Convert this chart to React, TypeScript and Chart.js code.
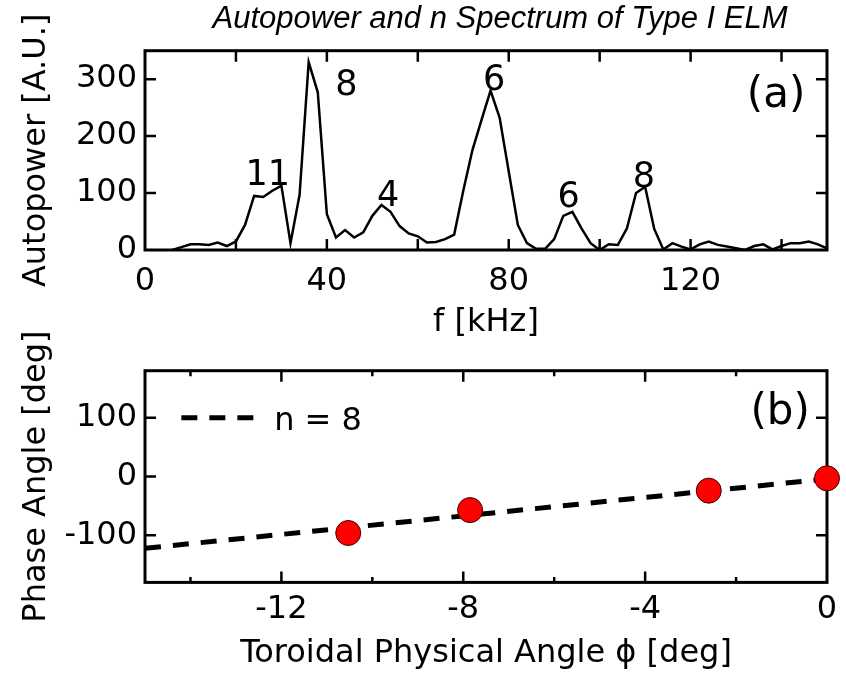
import React, { useEffect, useRef } from 'react';
import { Chart, registerables } from 'chart.js';

Chart.register(...registerables);

const FONT = '"DejaVu Sans", "Open Sans", sans-serif';
const TITLE_FONT = 'italic 31px "Liberation Sans", Arial, sans-serif';

// ---------- Panel (a): autopower spectrum ----------
const chartTitle = 'Autopower and n Spectrum of Type I ELM';
const freqKHz = [
  6, 8, 10, 12, 14, 16, 18, 20, 22, 24, 26, 28, 30, 32, 34, 36, 38, 40, 42, 44,
  46, 48, 50, 52, 54, 56, 58, 60, 62, 64, 66, 68, 70, 72, 74, 76, 78, 80, 82, 84,
  86, 88, 90, 92, 94, 96, 98, 100, 102, 104, 106, 108, 110, 112, 114, 116, 118, 120,
  122, 124, 126, 128, 130, 132, 134, 136, 138, 140, 142, 144, 146, 148, 150,
];
const autopower = [
  0, 5, 10, 10, 9, 13, 7, 15, 44, 95, 93, 104, 113, 12, 97, 330, 277, 63, 22, 35,
  22, 31, 60, 79, 67, 42, 29, 24, 13, 14, 19, 27, 104, 175, 228, 280, 232, 138, 44, 12,
  2, 2, 19, 60, 67, 38, 12, 0, 10, 9, 38, 100, 111, 37, 1, 12, 6, 1,
  10, 15, 9, 6, 3, 0, 7, 10, 1, 7, 12, 12, 15, 10, 3,
];
const xTickLabelsA = [0, 40, 80, 120];
const yTickLabelsA = [0, 100, 200, 300];
// mode-number annotations (text, frequency, baseline value)
const peakLabels = ['11', '8', '4', '6', '6', '8'];
const peakLabelF = [27, 44.3, 53.5, 76.8, 93.2, 109.7];
const peakLabelV = [114, 272, 77, 281, 76, 111];
const panelALabel = '(a)';
const panelALabelAt = [138.8, 252];

// ---------- Panel (b): phase vs toroidal angle ----------
const probePhi = [-10.53, -7.85, -2.6, 0];
const probePhase = [-96, -57, -24, -3];
const fitPhi = [-15, 0];
const fitPhase = [-122, -4];
const xTickLabelsB = [-12, -8, -4, 0];
const yTickLabelsB = [-100, 0, 100];
const legendText = 'n = 8';
const legendLinePhi = [-14.2, -12.6];
const legendPhase = 100;
const legendTextAt = [-12.16, 79.4];
const panelBLabel = '(b)';
const panelBLabelAt = [-1.03, 89.6];

function frameTicksPlugin(xMajor: number[] | null, majorLen: number, minorLen: number) {
  return {
    id: 'frameTicks',
    beforeDatasetsDraw(chart: any) {
      const { ctx, chartArea: a } = chart;
      const xs = chart.scales.x;
      const ys = chart.scales.y;
      ctx.save();
      ctx.strokeStyle = '#000';
      ctx.lineWidth = 2.5;
      ctx.beginPath();
      for (const t of xs.ticks) {
        const v = t.value;
        if (v <= xs.min || v >= xs.max) continue;
        const p = xs.getPixelForValue(v);
        const len = !xMajor || xMajor.includes(v) ? majorLen : minorLen;
        ctx.moveTo(p, a.bottom);
        ctx.lineTo(p, a.bottom - len);
        ctx.moveTo(p, a.top);
        ctx.lineTo(p, a.top + len);
      }
      for (const t of ys.ticks) {
        const v = t.value;
        if (v <= ys.min || v >= ys.max) continue;
        const p = ys.getPixelForValue(v);
        ctx.moveTo(a.left, p);
        ctx.lineTo(a.left + majorLen, p);
        ctx.moveTo(a.right, p);
        ctx.lineTo(a.right - majorLen, p);
      }
      ctx.stroke();
      ctx.lineWidth = 3;
      ctx.strokeRect(a.left, a.top, a.right - a.left, a.bottom - a.top);
      ctx.restore();
    },
  };
}

const topTextPlugin = {
  id: 'topText',
  afterDraw(chart: any) {
    const { ctx } = chart;
    const xs = chart.scales.x;
    const ys = chart.scales.y;
    ctx.save();
    ctx.fillStyle = '#000';
    ctx.textBaseline = 'alphabetic';
    ctx.textAlign = 'center';
    ctx.font = TITLE_FONT;
    ctx.fillText(chartTitle, 500, 28);
    ctx.font = `35px ${FONT}`;
    peakLabels.forEach((txt, i) => {
      ctx.fillText(txt, xs.getPixelForValue(peakLabelF[i]), ys.getPixelForValue(peakLabelV[i]));
    });
    ctx.font = `42px ${FONT}`;
    ctx.fillText(panelALabel, xs.getPixelForValue(panelALabelAt[0]), ys.getPixelForValue(panelALabelAt[1]));
    ctx.restore();
  },
};

const bottomTextPlugin = {
  id: 'bottomText',
  afterDraw(chart: any) {
    const { ctx } = chart;
    const xs = chart.scales.x;
    const ys = chart.scales.y;
    ctx.save();
    ctx.strokeStyle = '#000';
    ctx.lineWidth = 5;
    ctx.setLineDash([16, 12]);
    ctx.beginPath();
    const ly = ys.getPixelForValue(legendPhase);
    ctx.moveTo(xs.getPixelForValue(legendLinePhi[0]), ly);
    ctx.lineTo(xs.getPixelForValue(legendLinePhi[1]), ly);
    ctx.stroke();
    ctx.setLineDash([]);
    ctx.fillStyle = '#000';
    ctx.textBaseline = 'alphabetic';
    ctx.textAlign = 'left';
    ctx.font = `32px ${FONT}`;
    ctx.fillText(legendText, xs.getPixelForValue(legendTextAt[0]), ys.getPixelForValue(legendTextAt[1]));
    ctx.textAlign = 'center';
    ctx.font = `42px ${FONT}`;
    ctx.fillText(panelBLabel, xs.getPixelForValue(panelBLabelAt[0]), ys.getPixelForValue(panelBLabelAt[1]));
    ctx.restore();
  },
};

const tickFont = { family: FONT, size: 32 };
const yTickFont = { family: FONT, size: 32, lineHeight: 1 };
const titleFont = { family: FONT, size: 32 };

const TOP_H = 345;
const BOT_TOP = 300;
const BOT_H = 675 - BOT_TOP;

export default function App() {
  const topRef = useRef<HTMLCanvasElement>(null);
  const botRef = useRef<HTMLCanvasElement>(null);

  useEffect(() => {
    const top = new Chart(topRef.current as HTMLCanvasElement, {
      type: 'line',
      data: {
        datasets: [
          {
            data: freqKHz.map((f, i) => ({ x: f, y: autopower[i] })),
            borderColor: '#000',
            borderWidth: 2.5,
            pointRadius: 0,
            tension: 0,
            fill: false,
          },
        ],
      },
      options: {
        responsive: false,
        animation: false,
        events: [],
        layout: { padding: { top: 50.7, right: 19, left: 0, bottom: 0 } },
        plugins: { legend: { display: false }, tooltip: { enabled: false }, title: { display: false } },
        scales: {
          x: {
            type: 'linear',
            min: 0,
            max: 150,
            grid: { display: false, drawTicks: false },
            border: { display: false },
            ticks: {
              stepSize: 20,
              includeBounds: false,
              autoSkip: false,
              maxRotation: 0,
              padding: 12.6,
              color: '#000',
              font: tickFont,
              callback: (v: any) => (xTickLabelsA.includes(Math.round(Number(v))) ? String(Math.round(Number(v))) : ''),
            },
            title: { display: true, text: 'f [kHz]', color: '#000', font: titleFont, padding: { top: 0, bottom: 2.8 } },
            afterFit: (s: any) => {
              s.height = TOP_H - 250;
            },
          },
          y: {
            min: 0,
            max: 350,
            grid: { display: false, drawTicks: false },
            border: { display: false },
            ticks: {
              stepSize: 100,
              includeBounds: false,
              autoSkip: false,
              padding: 8,
              color: '#000',
              font: yTickFont,
              callback: (v: any) => (yTickLabelsA.includes(Math.round(Number(v))) ? String(Math.round(Number(v))) : ''),
            },
            title: { display: true, text: 'Autopower [A.U.]', color: '#000', font: titleFont, padding: { top: 17.8, bottom: 0 } },
            afterFit: (s: any) => {
              s.width = 145;
            },
          },
        },
      },
      plugins: [frameTicksPlugin(null, 11, 5.5), topTextPlugin],
    } as any);

    const bot = new Chart(botRef.current as HTMLCanvasElement, {
      type: 'scatter',
      data: {
        datasets: [
          {
            data: probePhi.map((p, i) => ({ x: p, y: probePhase[i] })),
            pointRadius: 12.5,
            pointBackgroundColor: '#ff0000',
            pointBorderColor: '#3a0000',
            pointBorderWidth: 1,
            showLine: false,
            clip: false,
          },
          {
            data: fitPhi.map((p, i) => ({ x: p, y: fitPhase[i] })),
            showLine: true,
            borderColor: '#000',
            borderWidth: 5,
            borderDash: [16, 12],
            pointRadius: 0,
            fill: false,
          },
        ],
      },
      options: {
        responsive: false,
        animation: false,
        events: [],
        layout: { padding: { top: 370.7 - BOT_TOP, right: 19, left: 0, bottom: 0 } },
        plugins: { legend: { display: false }, tooltip: { enabled: false }, title: { display: false } },
        scales: {
          x: {
            type: 'linear',
            min: -15,
            max: 0,
            grid: { display: false, drawTicks: false },
            border: { display: false },
            ticks: {
              stepSize: 2,
              includeBounds: false,
              autoSkip: false,
              maxRotation: 0,
              padding: 8.4,
              color: '#000',
              font: tickFont,
              callback: (v: any) => (xTickLabelsB.includes(Math.round(Number(v))) ? String(Math.round(Number(v))) : ''),
            },
            title: {
              display: true,
              text: 'Toroidal Physical Angle \u03D5 [deg]',
              color: '#000',
              font: titleFont,
              padding: { top: 0, bottom: 1.8 },
            },
            afterFit: (s: any) => {
              s.height = 675 - 582.4;
            },
          },
          y: {
            min: -180,
            max: 180,
            grid: { display: false, drawTicks: false },
            border: { display: false },
            ticks: {
              stepSize: 100,
              includeBounds: false,
              autoSkip: false,
              padding: 8,
              color: '#000',
              font: yTickFont,
              callback: (v: any) => (yTickLabelsB.includes(Math.round(Number(v))) ? String(Math.round(Number(v))) : ''),
            },
            title: { display: true, text: 'Phase Angle [deg]', color: '#000', font: titleFont, padding: { top: 17.8, bottom: 0 } },
            afterFit: (s: any) => {
              s.width = 145;
            },
          },
        },
      },
      plugins: [frameTicksPlugin(xTickLabelsB, 11, 5.5), bottomTextPlugin],
    } as any);

    return () => {
      top.destroy();
      bot.destroy();
    };
  }, []);

  return (
    <div style={{ position: 'fixed', left: 0, top: 0, width: 846, height: 675, background: '#fff' }}>
      <canvas ref={topRef} width={846} height={TOP_H} style={{ position: 'absolute', left: 0, top: 0 }} />
      <canvas ref={botRef} width={846} height={BOT_H} style={{ position: 'absolute', left: 0, top: BOT_TOP }} />
    </div>
  );
}
